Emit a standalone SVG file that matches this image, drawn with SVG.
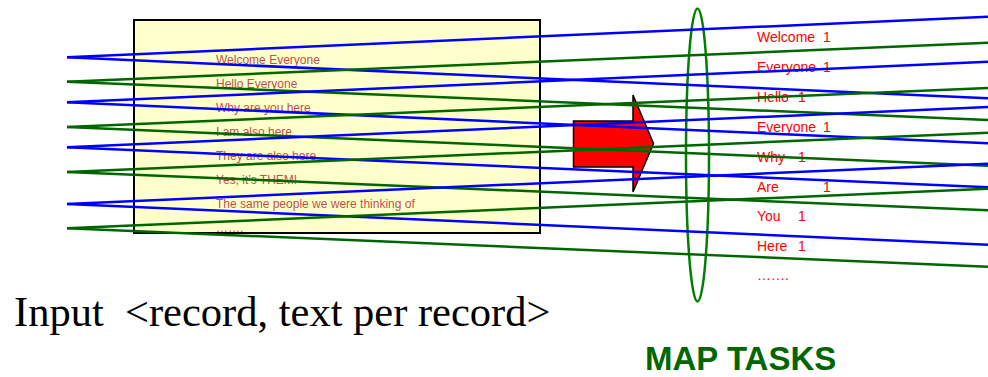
<svg xmlns="http://www.w3.org/2000/svg" width="988" height="377" viewBox="0 0 988 377">
<defs>
<style>
.box{fill:#FFFFCC;stroke:#000;stroke-width:2}
.rec{font-family:"Liberation Sans",Arial,sans-serif;font-size:12px;fill:#C0504D}
.out{font-family:"Liberation Sans",Arial,sans-serif;font-size:14px;fill:#FF0000}
.b{stroke:#0000FF;stroke-width:2.5;fill:none}
.g{stroke:#006600;stroke-width:2.5;fill:none}
.ell{fill:none;stroke:#008000;stroke-width:2.5}
.arrow{fill:#FF0000;stroke:#000;stroke-width:1.5;stroke-linejoin:miter}
.cap{font-family:"Liberation Serif","Times New Roman",serif;font-size:42.5px;fill:#000;white-space:pre}
.map{font-family:"Liberation Sans",Arial,sans-serif;font-size:33px;font-weight:bold;fill:#006600}
</style>
</defs>
<g id="input-box">
<rect class="box" x="134" y="20" width="406" height="213"/>
<text class="rec" x="216" y="63.5">Welcome Everyone</text>
<text class="rec" x="216" y="87.5">Hello Everyone</text>
<text class="rec" x="216" y="111.5">Why are you here</text>
<text class="rec" x="216" y="135.5">I am also here</text>
<text class="rec" x="216" y="159.5">They are also here</text>
<text class="rec" x="216" y="183.5">Yes, it’s THEM!</text>
<text class="rec" x="216" y="207.5">The same people we were thinking of</text>
<text class="rec" x="216" y="231.5">…….</text>
</g>
<g id="arrow">
<polygon class="arrow" points="573.5,121 633,121 633,95 653.5,143.5 633,192 633,167 573.5,167"/>
</g>
<g id="map-tasks">
<ellipse class="ell" cx="697.5" cy="155" rx="11.5" ry="146.5"/>
<text class="map" x="645" y="370">MAP TASKS</text>
</g>
<g id="output-pairs">
<text class="out" x="757" y="42">Welcome <tspan x="823">1</tspan></text>
<text class="out" x="757" y="72">Everyone <tspan x="823">1</tspan></text>
<text class="out" x="757" y="102">Hello <tspan x="798">1</tspan></text>
<text class="out" x="757" y="132">Everyone <tspan x="823">1</tspan></text>
<text class="out" x="757" y="161.5">Why <tspan x="798">1</tspan></text>
<text class="out" x="757" y="191.5">Are <tspan x="823">1</tspan></text>
<text class="out" x="757" y="221">You <tspan x="798">1</tspan></text>
<text class="out" x="757" y="251">Here <tspan x="798">1</tspan></text>
<text class="out" x="757" y="280">…….</text>
</g>
<g id="connectors">
<line class="b" x1="67" y1="57.3" x2="988" y2="16.7"/>
<line class="b" x1="67" y1="57.3" x2="988" y2="98.3"/>
<line class="g" x1="67" y1="81.7" x2="988" y2="42.7"/>
<line class="g" x1="67" y1="81.7" x2="988" y2="120"/>
<line class="b" x1="67" y1="102.3" x2="988" y2="61.7"/>
<line class="b" x1="67" y1="102.3" x2="988" y2="143.3"/>
<line class="g" x1="67" y1="127" x2="988" y2="88"/>
<line class="g" x1="67" y1="127" x2="988" y2="165.7"/>
<line class="b" x1="67" y1="147.3" x2="988" y2="107"/>
<line class="b" x1="67" y1="147.3" x2="988" y2="187.3"/>
<line class="g" x1="67" y1="172" x2="988" y2="132.7"/>
<line class="g" x1="67" y1="172" x2="988" y2="210.3"/>
<line class="b" x1="67" y1="204" x2="988" y2="163.7"/>
<line class="b" x1="67" y1="204" x2="988" y2="244.7"/>
<line class="g" x1="67" y1="228.3" x2="988" y2="188.7"/>
<line class="g" x1="67" y1="228.3" x2="988" y2="266.7"/>
</g>
<text class="cap" x="14" y="325.5" xml:space="preserve">Input  &lt;record, text per record&gt;</text>
</svg>
